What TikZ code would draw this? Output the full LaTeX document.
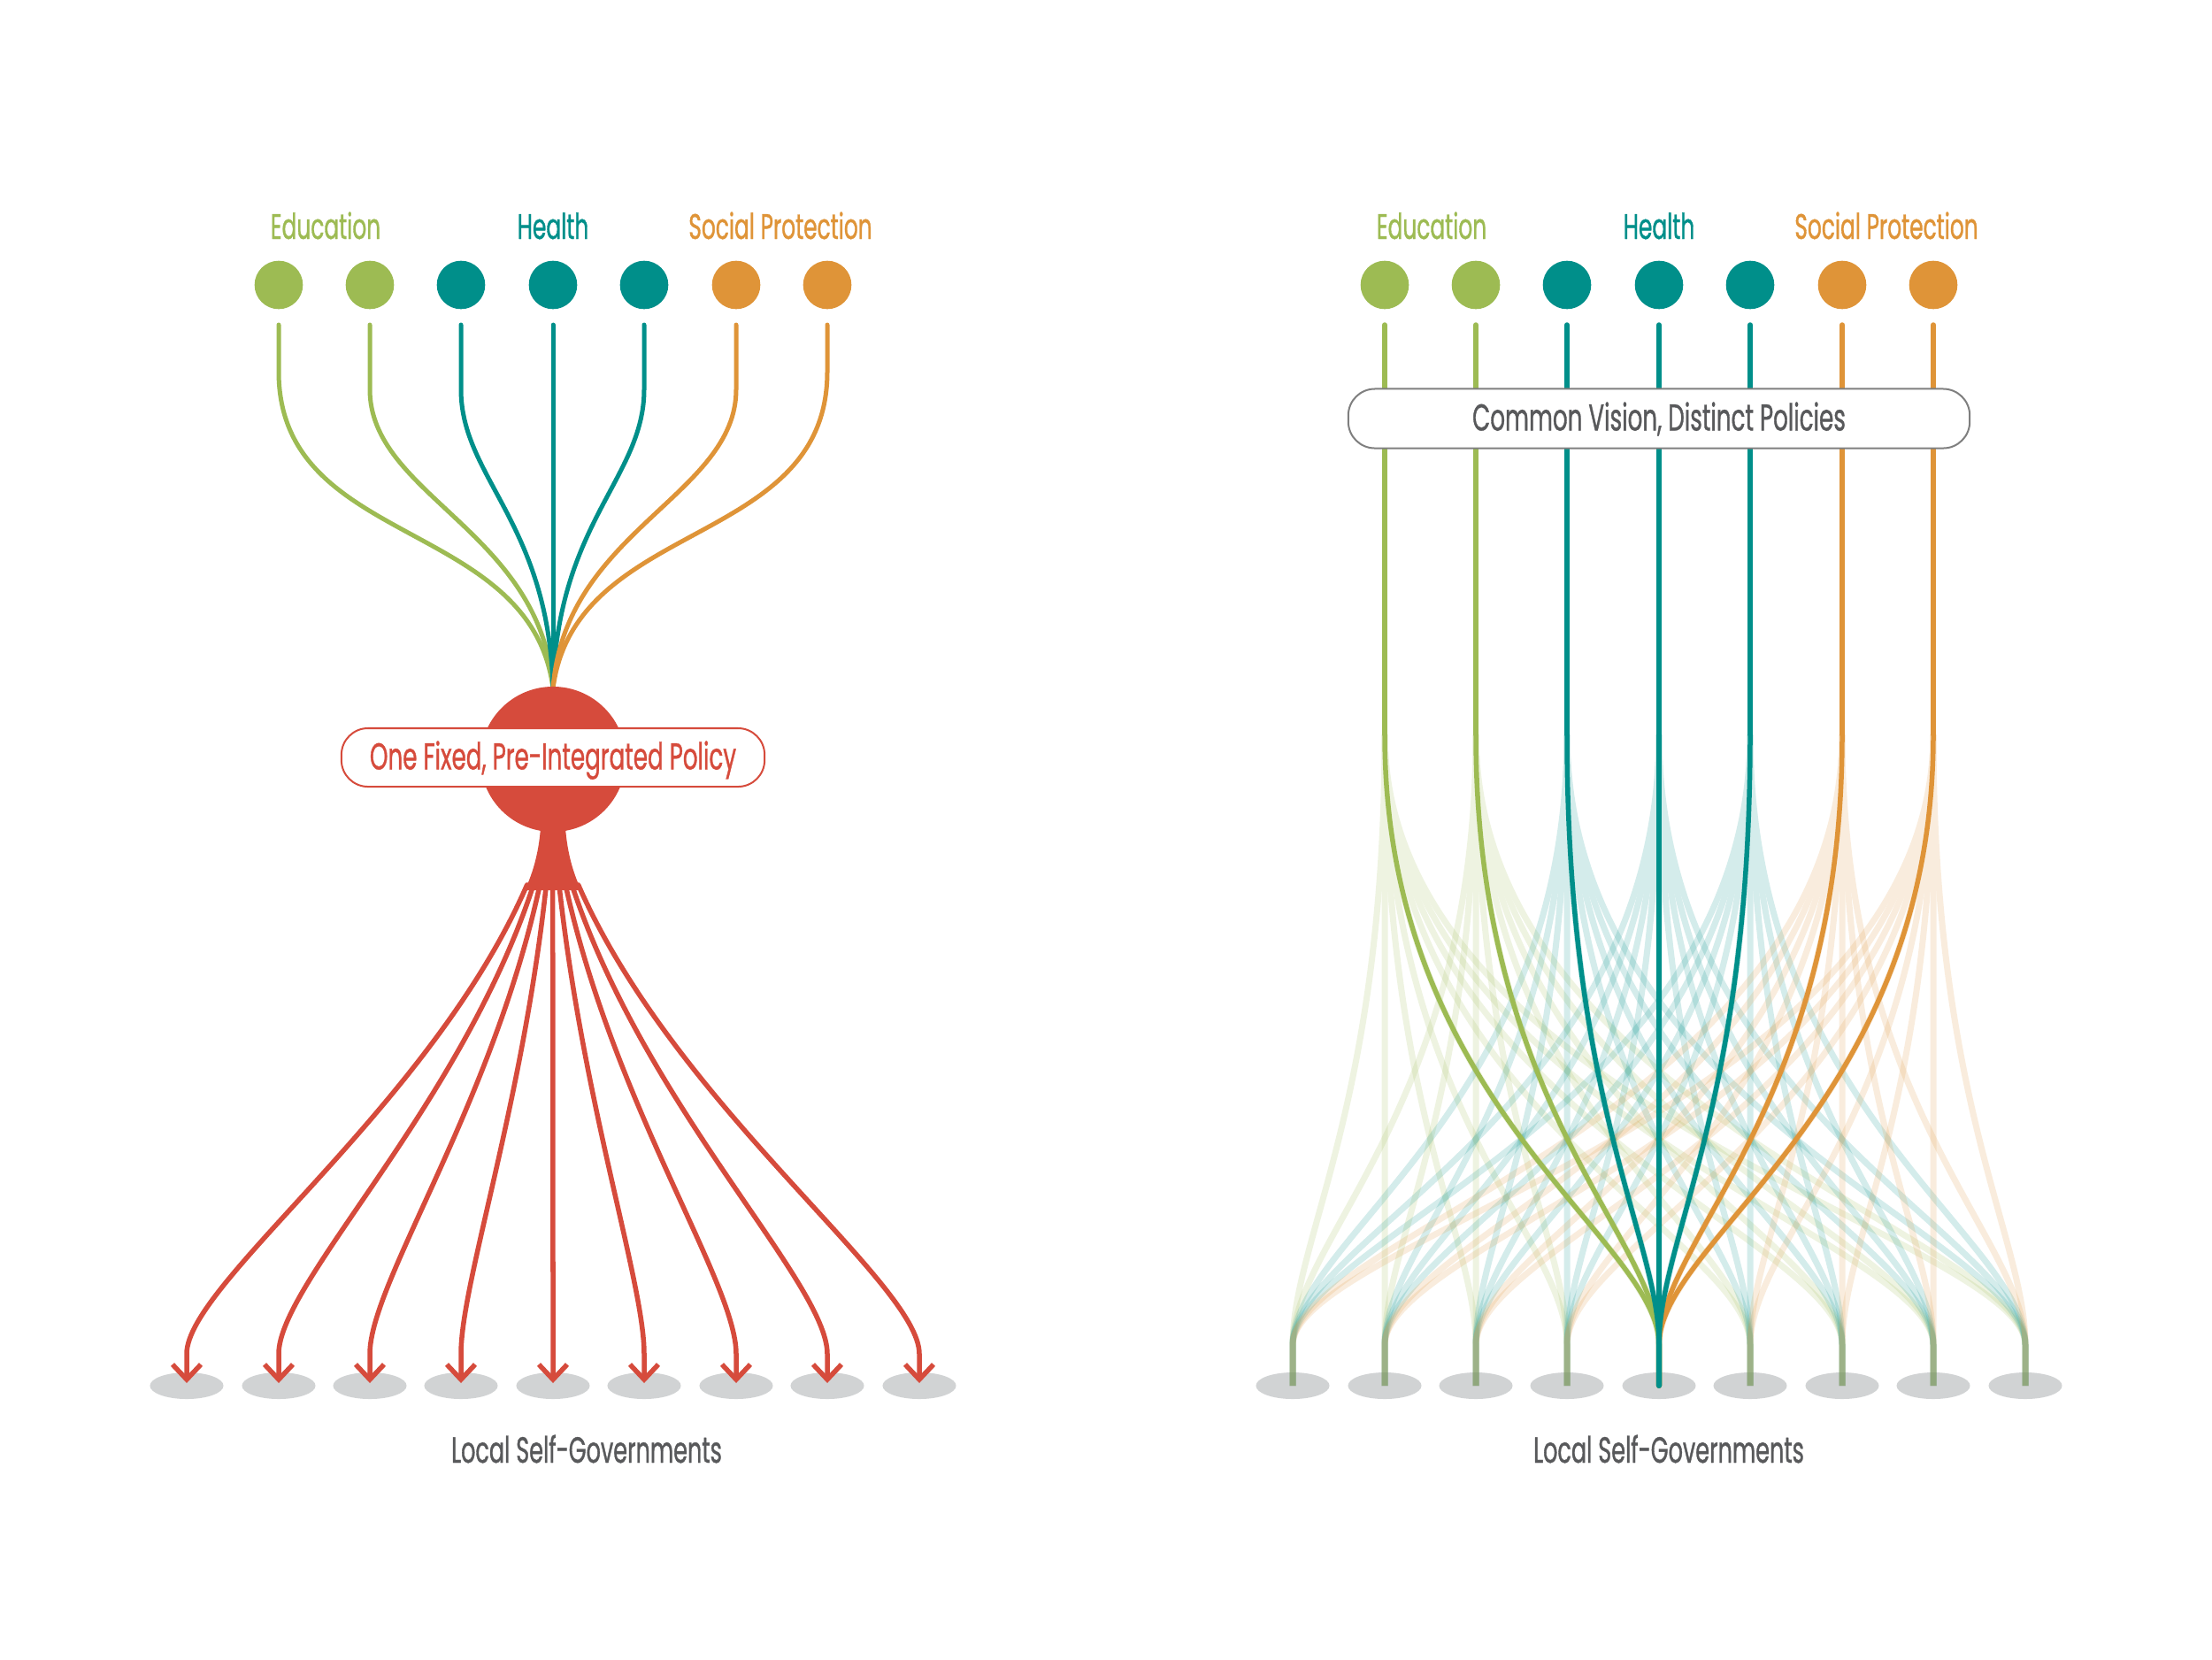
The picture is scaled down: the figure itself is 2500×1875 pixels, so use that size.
\documentclass[tikz,border=0pt]{standalone}
\usepackage{fontspec}
\setmainfont[FakeStretch=0.62,FakeBold=0.8]{Poppins}
\usetikzlibrary{arrows.meta,shapes.geometric}
\definecolor{cgreen}{HTML}{9DBB53}
\definecolor{cteal}{HTML}{008F8A}
\definecolor{corange}{HTML}{DF9438}
\definecolor{cred}{HTML}{D64B3C}
\definecolor{cgray}{HTML}{D1D3D4}
\definecolor{ctext}{HTML}{58595B}
\definecolor{cbox}{HTML}{7F7F7F}
\begin{document}
\begin{tikzpicture}[x=0.01cm,y=-0.01cm,line cap=round,line join=round,
  src/.style={circle,minimum size=0.546cm,inner sep=0pt},
  lse/.style={ellipse,fill=cgray,minimum width=0.83cm,minimum height=0.30cm,inner sep=0pt},
  catlab/.style={anchor=base,inner sep=0pt,font=\fontsize{11.4}{12}\selectfont},
  toplink/.style={line width=0.05cm},
  redlink/.style={draw=cred,line width=0.055cm,-{Straight Barb[length=0.17cm,width=0.32cm]}},
  faint/.style={line width=0.07cm},
  boldlink/.style={line width=0.055cm},
  pill/.style={rounded corners=0.3cm,fill=white,line width=0.02cm,inner sep=0pt,text height=0.27cm,text depth=0pt,font=\fontsize{12}{13}\selectfont},
  govlab/.style={anchor=base,inner sep=0pt,text=ctext,font=\fontsize{11.7}{12}\selectfont}]
\useasboundingbox[fill=white] (0,0) rectangle (2500,1875);

% ---------- labels ----------
\node[catlab,text=cgreen]  (Ledu) at (368,270) {Education};
\node[catlab,text=cteal]   (Lhea) at (625,270) {Health};
\node[catlab,text=corange] (Lsoc) at (882,270) {Social Protection};
\node[catlab,text=cgreen]  (Redu) at (1618,270) {Education};
\node[catlab,text=cteal]   (Rhea) at (1875,270) {Health};
\node[catlab,text=corange] (Rsoc) at (2132,270) {Social Protection};

% ---------- source circles ----------
\foreach \i/\x/\c in {1/315/cgreen,2/418/cgreen,3/521/cteal,4/625/cteal,5/728/cteal,6/832/corange,7/935/corange}{
  \node[src,fill=\c] (Ls\i) at (\x,322) {};
  \node[src,fill=\c] (Rs\i) at (\x+1250,322) {};
}

% ---------- bottom ellipses ----------
\foreach \j/\X in {0/211,1/315,2/418,3/521,4/625,5/728,6/832,7/935,8/1039}{
  \node[lse] (Lg\j) at (\X,1566) {};
  \node[lse] (Rg\j) at (\X+1250,1566) {};
}

% ================= LEFT PANEL =================
\coordinate (poltop) at (625,778);
\foreach \i/\x/\c/\ya/\cya/\cx/\cyb in {1/315/cgreen/420/620/600/585, 2/418/cgreen/440/560/612/600, 3/521/cteal/440/540/620/590, 4/625/cteal/440/540/625/590, 5/728/cteal/440/540/630/590, 6/832/corange/440/560/638/600, 7/935/corange/420/620/650/585}{
  \draw[toplink,draw=\c] ([yshift=-0.17cm]Ls\i.south) -- (\x,\ya) .. controls (\x,\cya) and (\cx,\cyb) .. (poltop);
}
\node[circle,fill=cred,minimum size=1.64cm,inner sep=0pt] (pol) at (625,858) {};
\fill[cred] (611,935) -- (639,935) .. controls (641,965) and (649,990) .. (657,1006) -- (593,1006) .. controls (601,990) and (609,965) .. (611,935) -- cycle;
\coordinate (stem) at (625,1000);
\foreach \j/\X in {0/211,1/315,2/418,3/521,4/625,5/728,6/832,7/935,8/1039}{
  \pgfmathsetmacro{\sx}{625+(\j-4)*7.25}
  \pgfmathsetmacro{\cx}{\sx+(\X-625)*0.263}
  \draw[redlink] ([xshift=\sx*0.01cm-6.25cm]stem) .. controls (\cx,1250) and (\X,1450) .. (\X,1530) -- ([yshift=0.03cm]Lg\j.center);
}
\node[pill,draw=cred,text=cred,minimum width=4.78cm,minimum height=0.66cm] (polL) at (625,856) {One Fixed, Pre-Integrated Policy};
\node[govlab] (Lgov) at (663,1653) {Local Self-Governments};

% ================= RIGHT PANEL =================
\foreach \i/\x/\c in {1/1565/cgreen,2/1668/cgreen,3/1771/cteal,4/1875/cteal,5/1978/cteal,6/2082/corange,7/2185/corange}{
  \draw[boldlink,draw=\c] ([yshift=-0.17cm]Rs\i.south) -- (\x,830) coordinate (Rk\i);
}
\node[pill,draw=cbox,text=ctext,minimum width=7.02cm,minimum height=0.67cm] (vis) at (1875,473) {Common Vision, Distinct Policies};
\foreach \i/\x/\c in {1/1565/cgreen,2/1668/cgreen,3/1771/cteal,4/1875/cteal,5/1978/cteal,6/2082/corange,7/2185/corange}{
  \begin{scope}[transparency group,opacity=0.17]
  \foreach \j/\X in {0/1461,1/1565,2/1668,3/1771,4/1875,5/1978,6/2082,7/2185,8/2289}{
    \draw[faint,draw=\c] (Rk\i) .. controls (\x,1250) and (\X,1400) .. (\X,1520) -- (Rg\j.center);
  }
  \end{scope}
}
\foreach \i/\x/\c in {1/1565/cgreen,2/1668/cgreen,6/2082/corange,7/2185/corange,3/1771/cteal,5/1978/cteal,4/1875/cteal}{
  \draw[boldlink,draw=\c] (Rk\i) .. controls (\x,1250) and (1875,1400) .. (1875,1520) -- (Rg4.center);
}
\node[govlab] (Rgov) at (1886,1653) {Local Self-Governments};
\end{tikzpicture}
\end{document}
